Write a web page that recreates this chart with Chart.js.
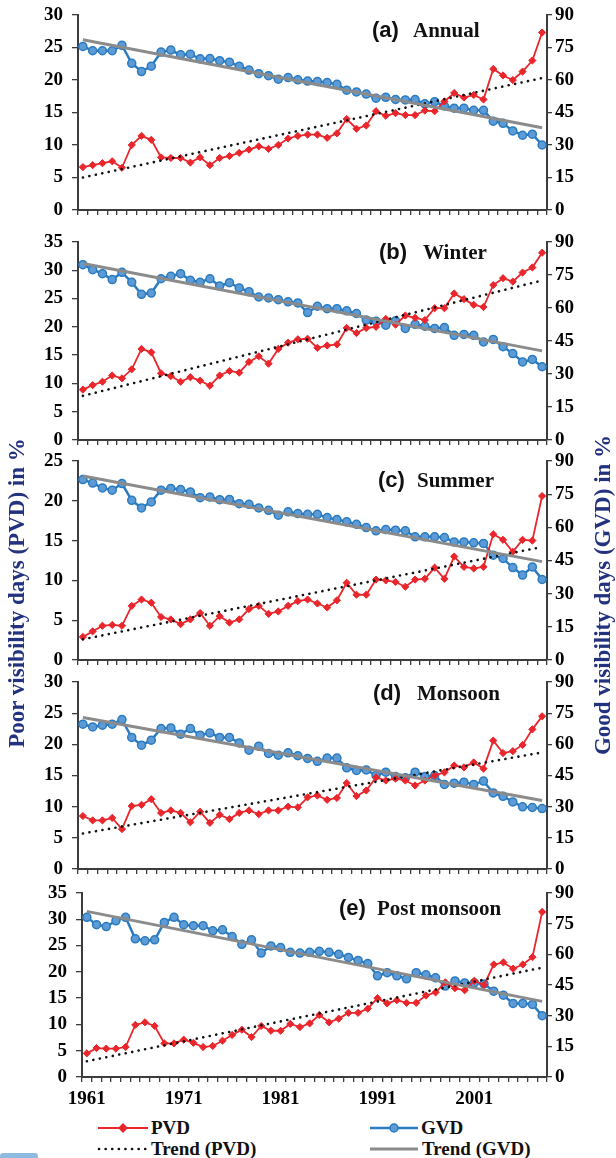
<!DOCTYPE html>
<html>
<head>
<meta charset="utf-8">
<script src="https://cdn.jsdelivr.net/npm/chart.js@4.4.1/dist/chart.umd.min.js"></script>
<style>
  body { margin: 0; background: #fff; }
  #fig { position: relative; width: 616px; height: 1158px; overflow: hidden; background: #fff; }
  #fig canvas { position: absolute; left: 0; }
  .lbl { position: absolute; white-space: nowrap; line-height: 24px; color: #111; }
  .tag { font-family: 'Liberation Sans', Arial, sans-serif; font-weight: bold; font-size: 22px; }
  .name { font-family: 'Liberation Serif', 'Times New Roman', serif; font-weight: bold; font-size: 21px; }
  .axt { position: absolute; width: 400px; text-align: center; line-height: 26px; white-space: nowrap;
         font-family: 'Liberation Serif', 'Times New Roman', serif; font-weight: bold; font-size: 23px;
         color: #23327e; transform: rotate(-90deg); transform-origin: 50% 50%; }
  .leg { position: absolute; white-space: nowrap; line-height: 20px;
         font-family: 'Liberation Serif', 'Times New Roman', serif; font-weight: bold; font-size: 19px; color: #111; }
</style>
</head>
<body>
<div id="fig">
  <canvas id="pa" width="616" height="215" style="top:3px"></canvas>
  <canvas id="pb" width="616" height="218" style="top:230px"></canvas>
  <canvas id="pc" width="616" height="219" style="top:449px"></canvas>
  <canvas id="pd" width="616" height="207" style="top:670px"></canvas>
  <canvas id="pe" width="616" height="228" style="top:881px"></canvas>

  <div class="lbl tag" style="left:372px;top:18px">(a)</div>
  <div class="lbl name" style="left:413px;top:18px">Annual</div>
  <div class="lbl tag" style="left:379px;top:240px">(b)</div>
  <div class="lbl name" style="left:423px;top:240px">Winter</div>
  <div class="lbl tag" style="left:378px;top:468px">(c)</div>
  <div class="lbl name" style="left:417px;top:468px">Summer</div>
  <div class="lbl tag" style="left:373px;top:681px">(d)</div>
  <div class="lbl name" style="left:417px;top:681px">Monsoon</div>
  <div class="lbl tag" style="left:339px;top:896px">(e)</div>
  <div class="lbl name" style="left:377px;top:896px">Post monsoon</div>

  <div class="axt" style="left:-183px;top:580px">Poor visibility days (PVD) in %</div>
  <div class="axt" style="left:403px;top:582px">Good visibility days (GVD) in %</div>

  <svg style="position:absolute;left:0;top:1115px" width="616" height="43">
    <line x1="98" y1="13" x2="148" y2="13" stroke="#e8262b" stroke-width="2"/>
    <rect x="119.5" y="9.5" width="7" height="7" fill="#e8262b" transform="rotate(45 123 13)"/>
    <line x1="370" y1="13" x2="418" y2="13" stroke="#2a7bc0" stroke-width="2.5"/>
    <circle cx="394" cy="13" r="4" fill="#5d9bd6" stroke="#2a7bc0" stroke-width="1.5"/>
    <line x1="99" y1="34" x2="147" y2="34" stroke="#111" stroke-width="2.6" stroke-dasharray="0.1 6.5" stroke-linecap="round"/>
    <line x1="370" y1="34" x2="418" y2="34" stroke="#8b8b8b" stroke-width="3"/>
  </svg>
  <div class="leg" style="left:151px;top:1118px">PVD</div>
  <div class="leg" style="left:421px;top:1118px">GVD</div>
  <div class="leg" style="left:151px;top:1139px">Trend (PVD)</div>
  <div class="leg" style="left:422px;top:1139px">Trend (GVD)</div>
  <div style="position:absolute;left:0;top:1153px;width:38px;height:5px;background:#8dbbe2;border-radius:3px 3px 0 0"></div>
</div>

<script>
const years = Array.from({ length: 48 }, (_, i) => 1961 + i);
const labelYears = [1961, 1971, 1981, 1991, 2001];

// PVD on left axis (%), GVD on right axis (%)
const pvdAnnual = [6.6, 6.9, 7.2, 7.5, 6.5, 10.0, 11.4, 10.8, 8.1, 8.0, 8.0, 7.3, 8.1, 6.9, 8.0, 8.3, 8.8, 9.3, 9.8, 9.4, 10.0, 11.0, 11.4, 11.6,
  11.6, 11.1, 11.8, 14.0, 12.5, 13.0, 15.2, 14.5, 14.9, 14.6, 14.6, 15.3, 15.2, 16.7, 18.0, 17.3, 17.7, 17.0, 21.7, 20.7, 20.0, 21.3, 23.0, 27.3];
const gvdAnnual = [75.5, 73.5, 73.5, 73.5, 76, 67.7, 63.9, 66.4, 72.9, 73.8, 71.6, 71.9, 69.8, 69.9, 68.9, 68.2, 66.4, 64.6, 62.9, 62, 60.4, 61.1, 60.1, 59.5,
  59.3, 58.8, 58, 55.3, 54.5, 53.5, 51.6, 52, 51, 50.8, 51, 49, 50, 48, 47, 47, 46, 46, 41, 40, 36.5, 34.5, 35, 30];
const trendPvdAnnual = [5.0, 20.3];
const trendGvdAnnual = [78.6, 38];

const pvdWinter = [8.9, 9.7, 10.3, 11.4, 10.9, 12.5, 16.1, 15.5, 11.8, 11.3, 10.3, 11.1, 10.5, 9.6, 11.4, 12.2, 11.9, 13.8, 14.8, 13.5, 16.1, 17.2, 17.8, 17.9,
  16.3, 16.7, 16.9, 19.8, 18.9, 19.8, 20.0, 21.4, 20.4, 22.0, 21.6, 21.2, 23.3, 23.3, 25.9, 24.9, 23.9, 23.5, 27.4, 28.6, 28.0, 29.6, 30.5, 33.1];
const gvdWinter = [79.7, 77.4, 75.6, 72.9, 76.2, 71.7, 66.2, 66.8, 73.3, 74.4, 75.6, 72.6, 71.7, 73.3, 70, 71.5, 69.1, 67.4, 65, 64.6, 63.8, 62.8, 62.3, 57.9,
  60.8, 59.7, 59.7, 58.7, 57.5, 54.5, 54, 52.2, 54.2, 50.7, 52.6, 51.7, 50.7, 51.1, 47.6, 48, 47.6, 44.6, 45.7, 42.4, 39.3, 35.5, 36.6, 33.3];
const trendPvdWinter = [7.8, 28.2];
const trendGvdWinter = [80.2, 40.5];

const pvdSummer = [2.9, 3.6, 4.3, 4.4, 4.3, 6.8, 7.6, 7.2, 5.4, 5.1, 4.5, 5.1, 5.9, 4.3, 5.5, 4.7, 5.1, 6.4, 6.8, 5.8, 6.1, 6.8, 7.4, 7.6,
  7.1, 6.6, 7.5, 9.7, 8.2, 8.2, 10.1, 10.0, 9.8, 9.2, 10.1, 10.2, 11.6, 10.2, 13.0, 11.7, 11.5, 11.7, 15.8, 15.1, 13.6, 15.1, 15.0, 20.6];
const gvdSummer = [81.6, 80, 77.8, 76.8, 79.8, 72.2, 68.8, 71.5, 76.8, 77.6, 77.1, 76, 73.4, 73.7, 72.5, 72.6, 70.7, 70.4, 68.8, 67.7, 65.5, 67, 66.2, 65.9,
  65.9, 64.4, 63.5, 62.5, 61.4, 59.9, 58.4, 59, 58.7, 58.4, 55.7, 55.7, 55.7, 55.4, 53.4, 53.4, 53, 52.7, 47.4, 45.9, 41.8, 38.4, 42.1, 36.4];
const trendPvdSummer = [2.6, 14.2];
const trendGvdSummer = [83.2, 44.5];

const pvdMonsoon = [8.5, 7.8, 7.8, 8.2, 6.4, 10.1, 10.3, 11.2, 9.0, 9.4, 9.0, 7.5, 9.2, 7.4, 8.7, 8.0, 9.0, 9.4, 8.8, 9.4, 9.4, 10.0, 9.9, 11.5,
  11.8, 11.1, 11.4, 13.8, 11.7, 12.6, 14.7, 14.2, 14.5, 14.2, 13.4, 14.2, 15.0, 15.5, 16.6, 16.3, 17.1, 16.1, 20.6, 18.6, 18.9, 19.9, 22.4, 24.5];
const gvdMonsoon = [69.7, 68.4, 69.2, 69.7, 71.9, 63.3, 59.6, 62, 67.6, 67.9, 64.9, 67.6, 64.4, 65.5, 63.3, 63.3, 60.7, 57.2, 59.1, 55.6, 54.8, 55.9, 54.5, 53.2,
  51.8, 53.4, 53.4, 48.7, 47.4, 47.7, 45, 46.6, 44.5, 43.9, 46.6, 44.5, 45, 40.7, 41.3, 41.8, 40.7, 42.3, 36.6, 35, 32.3, 29.9, 29.6, 29.1];
const trendPvdMonsoon = [5.7, 18.7];
const trendGvdMonsoon = [72.9, 33];

const pvdPost = [4.5, 5.5, 5.4, 5.4, 5.7, 9.9, 10.4, 9.7, 6.4, 6.4, 7.1, 6.5, 5.7, 5.9, 6.9, 8.0, 9.0, 7.6, 9.7, 8.8, 8.8, 10.1, 9.5, 10.2,
  11.8, 10.4, 11.1, 12.2, 12.2, 13.0, 15.0, 14.0, 14.6, 14.1, 14.1, 15.5, 16.1, 18.0, 16.9, 16.5, 18.3, 17.5, 21.4, 21.8, 20.6, 21.4, 22.8, 31.4];
const gvdPost = [78.1, 74.5, 73.6, 76.4, 78.1, 67.6, 66.6, 67.1, 75.6, 78.1, 74.5, 74, 74, 71.5, 72, 68.7, 64.9, 67.1, 60.6, 64.1, 63.3, 61, 60.6, 61,
  61.5, 61, 60, 58.5, 57, 55.5, 49.5, 51, 49.5, 48, 51, 50, 48.5, 44.5, 47, 46, 46, 45.5, 42, 40, 36, 36, 35.5, 30];
const trendPvdPost = [3.0, 20.8];
const trendGvdPost = [81, 37];

const leftMax = { a: 30, b: 35, c: 25, d: 30, e: 35 };

const red = '#e8262b';
const blue = '#2a7bc0';
const tickFont = { family: "'Liberation Serif', 'Times New Roman', serif", size: 19, weight: 'bold' };

// only the two ends of a trend line are given, the line spans the gap
function trendData(ends) {
	return years.map((y, i) => i === 0 ? ends[0] : (i === years.length - 1 ? ends[1] : null));
}

function panel(id, lMax, leftW, xh, pvd, gvd, tPvd, tGvd, showX) {
	new Chart(document.getElementById(id), {
		type: 'line',
		data: {
			labels: years,
			datasets: [{
					label: 'Trend (GVD)',
					data: trendData(tGvd),
					yAxisID: 'yR',
					borderColor: '#8b8b8b',
					borderWidth: 3,
					pointRadius: 0,
					spanGaps: true
				},
				{
					label: 'Trend (PVD)',
					data: trendData(tPvd),
					yAxisID: 'yL',
					borderColor: '#111',
					borderWidth: 2.6,
					borderDash: [0.1, 6.5],
					borderCapStyle: 'round',
					pointRadius: 0,
					spanGaps: true
				},
				{
					label: 'PVD',
					data: pvd,
					yAxisID: 'yL',
					borderColor: red,
					backgroundColor: red,
					borderWidth: 1.8,
					pointStyle: 'rectRot',
					pointRadius: 3.6,
					pointBorderWidth: 1
				},
				{
					label: 'GVD',
					data: gvd,
					yAxisID: 'yR',
					borderColor: blue,
					backgroundColor: '#5d9bd6',
					borderWidth: 2.5,
					pointRadius: 4,
					pointBorderWidth: 1.5
				}
			]
		},
		options: {
			responsive: false,
			animation: false,
			events: [],
			layout: { padding: { top: 12, left: 0, right: 0, bottom: 0 } },
			plugins: { legend: { display: false }, tooltip: { enabled: false } },
			scales: {
				x: {
					type: 'category',
					offset: true,
					grid: { offset: true, drawOnChartArea: false, tickLength: 5, color: '#3c3c3c', lineWidth: 1.3 },
					border: { color: '#3c3c3c', width: 2 },
					ticks: {
						display: showX,
						autoSkip: false,
						maxRotation: 0,
						minRotation: 0,
						padding: 6,
						color: '#000',
						font: tickFont,
						callback: function(val, idx) {
							return labelYears.includes(years[idx]) ? String(years[idx]) : '';
						}
					},
					afterFit: s => { s.height = xh; s.paddingLeft = 0; s.paddingRight = 0; }
				},
				yL: {
					position: 'left',
					min: 0,
					max: lMax,
					grid: { drawOnChartArea: false, tickLength: 6, color: '#3c3c3c', lineWidth: 1.3 },
					border: { color: '#3c3c3c', width: 2 },
					ticks: { stepSize: 5, padding: 9, color: '#000', font: tickFont },
					afterFit: s => { s.width = leftW; s.paddingTop = 0; s.paddingBottom = 0; }
				},
				yR: {
					position: 'right',
					min: 0,
					max: 90,
					grid: { drawOnChartArea: false, tickLength: 5, color: '#3c3c3c', lineWidth: 1.3 },
					border: { color: '#3c3c3c', width: 2 },
					ticks: { stepSize: 15, padding: 3, color: '#000', font: tickFont },
					afterFit: s => { s.width = 69; s.paddingTop = 0; s.paddingBottom = 0; }
				}
			}
		}
	});
}

panel('pa', leftMax.a, 78, 8, pvdAnnual, gvdAnnual, trendPvdAnnual, trendGvdAnnual, false);
panel('pb', leftMax.b, 78, 8, pvdWinter, gvdWinter, trendPvdWinter, trendGvdWinter, false);
panel('pc', leftMax.c, 78, 8, pvdSummer, gvdSummer, trendPvdSummer, trendGvdSummer, false);
panel('pd', leftMax.d, 78, 8, pvdMonsoon, gvdMonsoon, trendPvdMonsoon, trendGvdMonsoon, false);
panel('pe', leftMax.e, 82, 32, pvdPost, gvdPost, trendPvdPost, trendGvdPost, true);
</script>
</body>
</html>
